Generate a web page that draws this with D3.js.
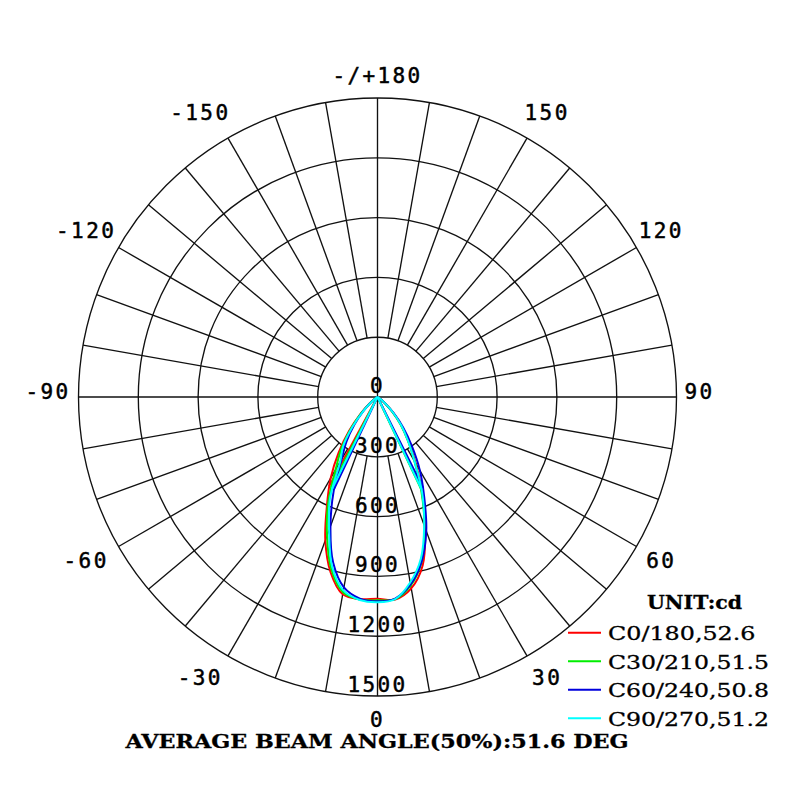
<!DOCTYPE html>
<html>
<head>
<meta charset="utf-8">
<style>
	body { margin: 0; background: #fff; }
	svg { position: absolute; top: 0px; left: 0px; }
	.grid { fill: none; stroke: #111; stroke-width: 1.35px; }
	.curve { fill: none; stroke-width: 2px; stroke-linejoin: round; }
	.lbl { font-family: "DejaVu Sans Mono", monospace; font-size: 21px; fill: #000; stroke: #000; stroke-width: 0.5px; letter-spacing: 2.4px; }
	.leg { font-family: "DejaVu Serif", serif; font-size: 19px; fill: #000; stroke: #000; stroke-width: 0.3px; }
	.bold { font-weight: bold; }
</style>
<script src="https://cdnjs.cloudflare.com/ajax/libs/d3/7.8.5/d3.min.js"></script>
</head>
<body>
<svg width="800" height="800"></svg>
<script>
// gamma angles (deg), 0 = straight down, + to the right
var gammaAngles = [-90,-80,-70,-60,-55,-50,-45,-40,-35,-30,-25,-20,-15,-10,-5,0,5,10,15,20,25,30,35,40,45,50,55,60,70,80,90];

// intensities in cd
var c0   = [0,0,0,5,20,55,120,220,340,470,600,765,910,1005,1018,1012,1020,975,875,700,530,380,270,185,110,50,18,5,0,0,0];
var c30  = [0,0,0,5,18,50,115,205,315,420,585,740,895,995,1020,1020,1018,960,855,690,520,370,265,180,105,45,15,5,0,0,0];
var c60  = [0,0,0,5,15,45,105,180,270,360,520,690,860,970,1015,1025,1015,955,855,715,555,425,300,200,115,50,18,5,0,0,0];
var c90  = [0,0,0,4,15,45,105,195,300,375,565,710,880,985,1022,1030,1018,945,840,685,530,370,265,185,110,50,18,5,0,0,0];

var seriesNames = ["C0/180","C30/210","C60/240","C90/270"];
var seriesColors = ["#ff0000","#00ee00","#0000dd","#00ffff"];
var beamAngles = ["52.6","51.5","50.8","51.2"];
var averageBeam = "51.6";

var ringValues = [0,300,600,900,1200,1500];
var angleTicks = [180,150,120,90,60,30,0,-30,-60,-90,-120,-150];
var angleTickText = ["-/+180","150","120","90","60","30","0","-30","-60","-90","-120","-150"];

var svg = d3.select("svg"),
	cx = 377.5, cy = 397,
	g = svg.append("g").attr("transform", "translate(" + cx + "," + cy + ")");

var r = d3.scaleLinear().domain([0,1500]).range([0,299]);
var toRad = function(deg) { return (180 - deg) * Math.PI / 180; };
var px = function(deg, rr) { return rr * Math.sin(toRad(deg)); };
var py = function(deg, rr) { return -rr * Math.cos(toRad(deg)); };

// rings
g.selectAll("circle.ring").data(ringValues.slice(1)).enter().append("circle")
	.attr("class","grid ring").attr("r", function(d) { return r(d); });

// spokes every 10 deg, main axes through centre
var spokes = d3.range(-170, 181, 10);
g.selectAll("line.spoke").data(spokes).enter().append("line")
	.attr("class","grid spoke")
	.attr("x1", function(d) { var r0 = (d % 90 === 0) ? 0 : r(ringValues[1]); return px(d, r0); })
	.attr("y1", function(d) { var r0 = (d % 90 === 0) ? 0 : r(ringValues[1]); return py(d, r0); })
	.attr("x2", function(d) { return px(d, r(1500)); })
	.attr("y2", function(d) { return py(d, r(1500)); });

// ring labels along the downward axis
g.selectAll("text.ringlbl").data(ringValues).enter().append("text")
	.attr("class","lbl ringlbl")
	.attr("text-anchor","middle")
	.attr("x", 0)
	.attr("y", function(d) { return r(d) - 4; })
	.text(function(d) { return d; });

// angle labels
var labR = 322;
g.selectAll("text.anglbl").data(angleTicks).enter().append("text")
	.attr("class","lbl anglbl")
	.attr("text-anchor","middle")
	.attr("x", function(d, i) {
		var a = toRad(d), s = Math.sin(a);
		var nudge = Math.abs(s) > 0.01 ? Math.sign(s) * 10 * Math.abs(Math.cos(a)) : 0;
		var shift = angleTickText[i].charAt(0) === "-" && d !== 180 ? -7.5 : 0;
		return px(d, labR) + nudge + shift;
	})
	.attr("y", function(d) {
		var up = (Math.abs(d) >= 90 && Math.abs(d) < 180) ? -6 : 3 * Math.abs(Math.sin(toRad(d)));
		return py(d, labR) + up + 7.5;
	})
	.text(function(d, i) { return angleTickText[i]; });

// curves
var allSeries = [c0, c30, c60, c90];
var line = d3.lineRadial()
	.angle(function(d) { return toRad(d[0]); })
	.radius(function(d) { return r(d[1]); })
	.curve(d3.curveCatmullRom.alpha(0.5));

// where the curve falls to half of its peak, on each side
function halfPoint(vals, side) {
	var peak = d3.max(vals), half = peak / 2;
	var i = gammaAngles.indexOf(0);
	while (i + side >= 0 && i + side < vals.length && vals[i + side] >= half) i += side;
	var a0 = gammaAngles[i], a1 = gammaAngles[i + side], v0 = vals[i], v1 = vals[i + side];
	return [a0 + (a1 - a0) * (v0 - half) / (v0 - v1), half];
}

allSeries.forEach(function(vals, k) {
	var pts = gammaAngles.map(function(a, i) { return [a, vals[i]]; });
	g.append("path").datum(pts).attr("class","curve")
		.attr("stroke", seriesColors[k]).attr("d", line);
	[-1, 1].forEach(function(side) {
		var hp = halfPoint(vals, side);
		g.append("line").attr("class","curve").attr("stroke", seriesColors[k])
			.attr("x1", 0).attr("y1", 0)
			.attr("x2", px(hp[0], r(hp[1]))).attr("y2", py(hp[0], r(hp[1])));
	});
});

// legend
svg.append("text").attr("class","leg bold")
	.attr("x", 647).attr("y", 609).attr("textLength", 95).attr("lengthAdjust","spacingAndGlyphs")
	.text("UNIT:cd");

var leg = svg.selectAll("g.legrow").data(seriesNames).enter().append("g")
	.attr("transform", function(d, i) { return "translate(0," + (i * 28.5) + ")"; });
leg.append("line")
	.attr("x1", 568).attr("x2", 601).attr("y1", 632.7).attr("y2", 632.7)
	.attr("stroke", function(d, i) { return seriesColors[i]; }).attr("stroke-width", 2);
leg.append("text").attr("class","leg")
	.attr("x", 608).attr("y", 640)
	.attr("textLength", function(d, i) { return (d + "," + beamAngles[i]).length * 13.5 - 1; })
	.attr("lengthAdjust","spacingAndGlyphs")
	.text(function(d, i) { return d + "," + beamAngles[i]; });

var title = "AVERAGE BEAM ANGLE(50%):" + averageBeam + " DEG";
svg.append("text").attr("class","leg bold")
	.attr("x", 125.5).attr("y", 748).attr("font-size", 21)
	.attr("textLength", 503).attr("lengthAdjust","spacingAndGlyphs")
	.text(title);
</script>
</body>
</html>
